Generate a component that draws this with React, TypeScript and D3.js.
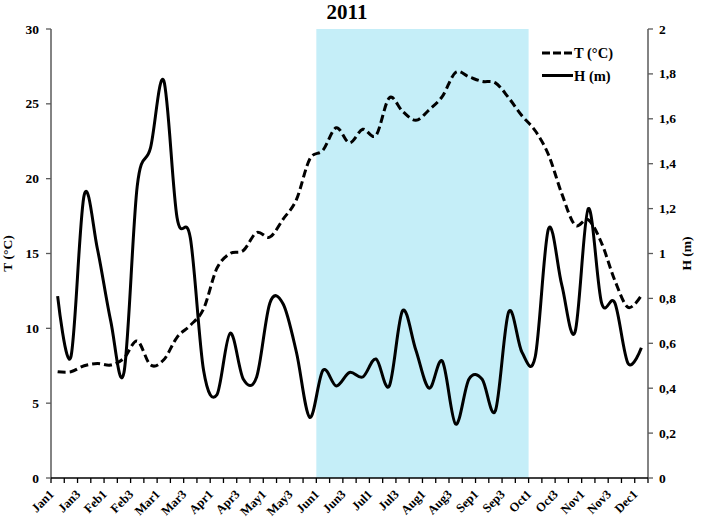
import React from "react";
import * as d3 from "d3";

const categories = [
  "Jan1","Jan2","Jan3","Jan4","Feb1","Feb2","Feb3","Feb4","Mar1","Mar2","Mar3","Mar4",
  "Apr1","Apr2","Apr3","Apr4","May1","May2","May3","May4","Jun1","Jun2","Jun3","Jun4",
  "Jul1","Jul2","Jul3","Jul4","Aug1","Aug2","Aug3","Aug4","Sep1","Sep2","Sep3","Sep4",
  "Oct1","Oct2","Oct3","Oct4","Nov1","Nov2","Nov3","Nov4","Dec1",
];

const temperature = [
  7.1, 7.1, 7.5, 7.65, 7.55, 8.0, 9.15, 7.55, 7.9, 9.4, 10.2, 11.3,
  14.0, 15.0, 15.2, 16.4, 16.1, 17.3, 18.6, 21.3, 21.9, 23.4, 22.4, 23.3,
  22.9, 25.4, 24.5, 23.9, 24.6, 25.5, 27.1, 26.8, 26.5, 26.4, 25.4, 24.2,
  23.2, 21.6, 19.0, 16.9, 17.25, 15.7, 13.2, 11.4, 12.2,
];

const height = [
  0.81, 0.54, 1.26, 1.02, 0.70, 0.47, 1.30, 1.47, 1.77, 1.16, 1.07, 0.48,
  0.37, 0.645, 0.44, 0.45, 0.78, 0.775, 0.56, 0.27, 0.48, 0.41, 0.47, 0.45,
  0.53, 0.41, 0.745, 0.57, 0.40, 0.52, 0.24, 0.44, 0.44, 0.30, 0.74, 0.56,
  0.54, 1.11, 0.86, 0.65, 1.20, 0.78, 0.78, 0.51, 0.58,
];

const leftTicks = [0, 5, 10, 15, 20, 25, 30];
const rightTicks = [0, 0.2, 0.4, 0.6, 0.8, 1, 1.2, 1.4, 1.6, 1.8, 2];
const shadeStart = "Jun1";
const shadeEnd = "Oct1";

const W = 701, H = 521;
const L = 51, R = 648, T = 29, B = 478;
const font = "'Liberation Serif', 'Times New Roman', serif";
const axisColor = "#5a5a5a";

export default function App() {
  const x = d3.scaleBand<string>().domain(categories).range([L, R]).paddingInner(0).paddingOuter(0);
  const cx = (c: string) => (x(c) as number) + x.bandwidth() / 2;
  const yT = d3.scaleLinear().domain([0, 30]).range([B, T]);
  const yH = d3.scaleLinear().domain([0, 2]).range([B, T]);

  const lineT = d3.line<number>().x((_, i) => cx(categories[i])).y((d) => yT(d)).curve(d3.curveCardinal.tension(0));
  const lineH = d3.line<number>().x((_, i) => cx(categories[i])).y((d) => yH(d)).curve(d3.curveCardinal.tension(0));

  const boundaries = categories.map((c) => x(c) as number).concat([R]);
  const fmtH = (v: number) => (Math.round(v * 10) / 10).toString().replace(".", ",");

  return (
    <div style={{ position: "absolute", left: 0, top: 0 }}>
      <svg width={W} height={H} style={{ display: "block", background: "#fff" }} fontFamily={font}>
        <rect
          x={x(shadeStart) as number}
          y={T}
          width={(x(shadeEnd) as number) - (x(shadeStart) as number)}
          height={B - T}
          fill="#c5eef8"
        />
        {/* axes */}
        <line x1={L} x2={L} y1={T} y2={B} stroke={axisColor} strokeWidth={1.5} />
        <line x1={R} x2={R} y1={T} y2={B} stroke={axisColor} strokeWidth={1.5} />
        <line x1={L} x2={R} y1={B} y2={B} stroke="#000" strokeWidth={1.5} />
        {boundaries.map((b, i) => (
          <line key={"xt" + i} x1={b} x2={b} y1={B} y2={B + 5} stroke="#000" strokeWidth={1.3} />
        ))}
        {leftTicks.map((t) => (
          <g key={"lt" + t}>
            <line x1={L - 5} x2={L} y1={yT(t)} y2={yT(t)} stroke={axisColor} strokeWidth={1.3} />
            <text x={L - 12} y={yT(t) + 4.5} textAnchor="end" fontSize={13.5} fontWeight="bold">{t}</text>
          </g>
        ))}
        {rightTicks.map((t) => (
          <g key={"rt" + t}>
            <line x1={R} x2={R + 5} y1={yH(t)} y2={yH(t)} stroke={axisColor} strokeWidth={1.3} />
            <text x={R + 11} y={yH(t) + 4.5} textAnchor="start" fontSize={13.5} fontWeight="bold">{fmtH(t)}</text>
          </g>
        ))}
        {categories.map((c, i) =>
          i % 2 === 0 ? (
            <text
              key={"xl" + c}
              transform={`translate(${cx(c) - 3},${B + 17}) rotate(-45)`}
              textAnchor="end"
              fontSize={12.5}
              fontWeight="bold"
            >
              {c}
            </text>
          ) : null
        )}
        {/* lines */}
        <path d={lineH(height) || ""} fill="none" stroke="#000" strokeWidth={3} />
        <path d={lineT(temperature) || ""} fill="none" stroke="#000" strokeWidth={3} strokeDasharray="8,4" />
        {/* titles */}
        <text x={347} y={19} textAnchor="middle" fontSize={21} fontWeight="bold">2011</text>
        <text transform={`translate(12,${(T + B) / 2}) rotate(-90)`} textAnchor="middle" fontSize={13.5} fontWeight="bold">T (°C)</text>
        <text transform={`translate(691,${(T + B) / 2}) rotate(-90)`} textAnchor="middle" fontSize={13.5} fontWeight="bold">H (m)</text>
        {/* legend */}
        <line x1={542} x2={573} y1={53} y2={53} stroke="#000" strokeWidth={3} strokeDasharray="8,3" />
        <text x={574} y={58} fontSize={14.5} fontWeight="bold">T (°C)</text>
        <line x1={542} x2={573} y1={75.5} y2={75.5} stroke="#000" strokeWidth={3} />
        <text x={574} y={81} fontSize={14.5} fontWeight="bold">H (m)</text>
      </svg>
    </div>
  );
}
